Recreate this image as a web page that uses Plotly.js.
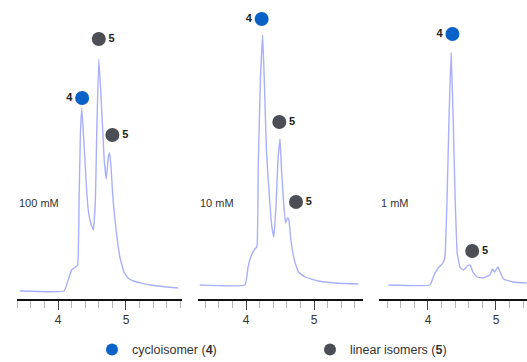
<!DOCTYPE html>
<html>
<head>
<meta charset="utf-8">
<script src="https://cdn.plot.ly/plotly-3.0.1.min.js"></script>
<style>
  html, body { margin: 0; padding: 0; background: #fff; }
  #chart { width: 527px; height: 362px; }
</style>
</head>
<body>
<div id="chart"></div>
<script>
// HPLC traces (retention time, min) at three concentrations
const concLabels = ['100 mM', '10 mM', '1 mM'];

const t100 = [3.44, 4.09, 4.15, 4.20, 4.26, 4.29, 4.31, 4.33, 4.35, 4.38, 4.41, 4.44, 4.48, 4.52, 4.55, 4.57, 4.60, 4.63, 4.66, 4.68, 4.71, 4.74, 4.76, 4.78, 4.81, 4.86, 4.91, 4.97, 5.03, 5.11, 5.35, 5.60, 5.77];
const y100 = [0, 0, 11, 21, 24, 26, 91, 158, 183, 151, 114, 84, 68, 61, 91, 158, 232, 198, 158, 131, 112, 134, 138, 124, 91, 58, 34, 19, 13, 10, 6, 4, 3];

const t10 = [3.32, 3.985, 4.03, 4.07, 4.13, 4.16, 4.18, 4.21, 4.245, 4.27, 4.30, 4.34, 4.38, 4.41, 4.44, 4.47, 4.50, 4.52, 4.55, 4.58, 4.61, 4.63, 4.66, 4.71, 4.77, 4.87, 5.06, 5.31, 5.65];
const y10 = [6, 6, 24, 34, 42, 44, 124, 208, 256, 208, 141, 98, 64, 54, 84, 131, 152, 124, 91, 68, 73, 71, 51, 31, 19, 14, 10, 8, 7];

const t1 = [3.42, 4.03, 4.09, 4.15, 4.22, 4.25, 4.28, 4.31, 4.34, 4.37, 4.40, 4.43, 4.47, 4.52, 4.58, 4.62, 4.66, 4.72, 4.81, 4.91, 4.95, 4.98, 5.03, 5.06, 5.11, 5.25, 5.45];
const y1 = [6, 6, 16, 23, 28, 34, 91, 174, 238, 174, 91, 38, 24, 21, 25, 26, 19, 14, 13, 16, 22, 19, 24, 19, 12, 9, 8];

// Peak assignments: cycloisomer (4) and linear isomers (5)
const cycloT = [[4.355], [4.23], [4.36]];
const cycloY = [[193], [272], [257]];
const linearT = [[4.60, 4.80], [4.49, 4.735], [4.65]];
const linearY = [[252, 156], [169, 89], [40]];

const xRanges = [[3.397, 5.824], [3.294, 5.72], [3.28, 5.456]];
const xDomains = [[17 / 527, 182 / 527], [198 / 527, 363 / 527], [379 / 527, 1]];

const traceX = [t100, t10, t1];
const traceY = [y100, y10, y1];

const lineColor = '#a9b0fb';
const blue = '#0a62c8';
const gray = '#4b4f55';
const font = 'Liberation Sans, Arial, sans-serif';

const legendBase = {
  orientation: 'h', xanchor: 'left', y: -0.171, yanchor: 'middle',
  font: {family: font, size: 12.5, color: '#333'},
  itemsizing: 'constant', bgcolor: 'rgba(0,0,0,0)'
};

const data = [];
const layout = {
  width: 527, height: 362,
  margin: {l: 0, r: 0, t: 1, b: 63, autoexpand: false},
  paper_bgcolor: '#fff', plot_bgcolor: '#fff',
  font: {family: font, color: '#333', size: 12},
  showlegend: true,
  legend: Object.assign({x: 92 / 527}, legendBase),
  legend2: Object.assign({x: 310 / 527}, legendBase),
  annotations: []
};

for (let i = 0; i < 3; i++) {
  const sfx = i === 0 ? '' : String(i + 1);
  const xa = 'x' + sfx, ya = 'y' + sfx;

  data.push({
    x: traceX[i], y: traceY[i], xaxis: xa, yaxis: ya,
    mode: 'lines', line: {color: lineColor, width: 1.4, shape: 'spline', smoothing: 0.3},
    showlegend: false, hoverinfo: 'skip'
  });

  data.push({
    x: cycloT[i], y: cycloY[i], xaxis: xa, yaxis: ya,
    mode: 'markers+text', text: cycloT[i].map(() => '<b>4</b>'),
    textposition: 'middle left', textfont: {size: 11, color: '#222', family: font},
    marker: {color: blue, size: 14},
    showlegend: false
  });

  data.push({
    x: linearT[i], y: linearY[i], xaxis: xa, yaxis: ya,
    mode: 'markers+text', text: linearT[i].map(() => '<b>5</b>'),
    textposition: 'middle right', textfont: {size: 11, color: '#222', family: font},
    marker: {color: gray, size: 14},
    showlegend: false
  });

  layout['xaxis' + sfx] = {
    domain: xDomains[i], range: xRanges[i], anchor: ya,
    showgrid: false, zeroline: false,
    showline: true, linecolor: '#111', linewidth: 2,
    ticks: 'outside', ticklen: 9, tickwidth: 1, tickcolor: '#444',
    tick0: 0, dtick: 1,
    minor: {ticks: 'outside', dtick: 0.2, ticklen: 7, tickwidth: 1, tickcolor: '#b5b5b5', showgrid: false},
    tickfont: {size: 12, color: '#333', family: font},
    fixedrange: true
  };
  layout['yaxis' + sfx] = {
    domain: [0, 1], range: [-8, 290], anchor: xa,
    visible: false, showgrid: false, zeroline: false, fixedrange: true
  };

  layout.annotations.push({
    xref: xa + ' domain', yref: ya, x: 0, y: 88,
    xanchor: 'left', yanchor: 'middle', showarrow: false,
    text: concLabels[i], font: {size: 11, color: '#333', family: font}
  });
}

// legend entries
data.push({
  x: [null], y: [null], mode: 'markers', marker: {color: blue, size: 13},
  name: 'cycloisomer (<b>4</b>)', showlegend: true, legend: 'legend', hoverinfo: 'skip'
});
data.push({
  x: [null], y: [null], mode: 'markers', marker: {color: gray, size: 13},
  name: 'linear isomers (<b>5</b>)', showlegend: true, legend: 'legend2', hoverinfo: 'skip'
});

Plotly.newPlot('chart', data, layout, {staticPlot: true, displayModeBar: false});
</script>
</body>
</html>
